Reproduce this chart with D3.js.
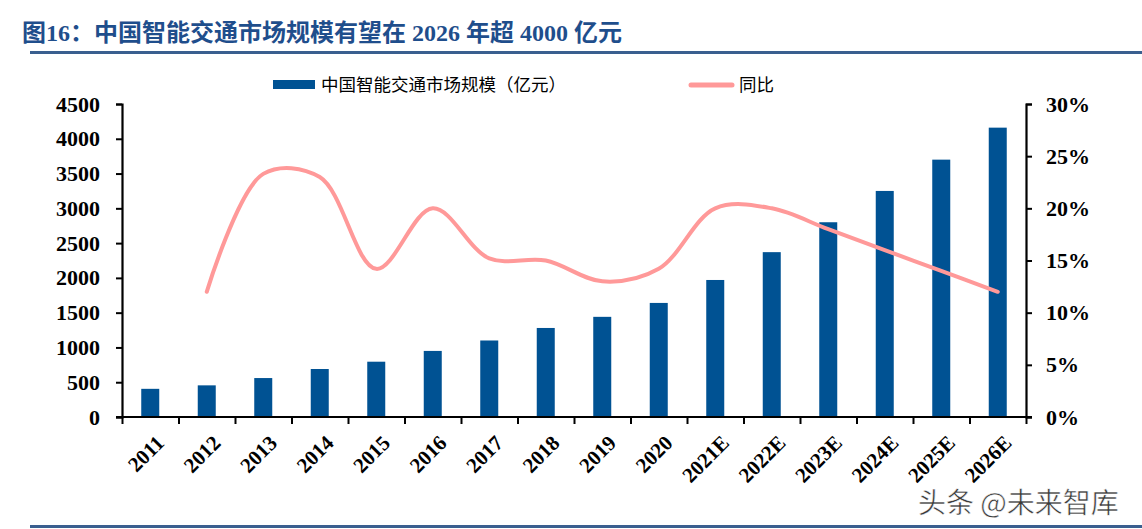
<!DOCTYPE html>
<html><head><meta charset="utf-8">
<script src="https://cdn.jsdelivr.net/npm/d3@7"></script>
<style>
body{margin:0;background:#fff;}
svg{display:block;}
</style></head><body>
<svg id="c" width="1142" height="529"></svg>
<script>
const categories = ["2011","2012","2013","2014","2015","2016","2017","2018","2019","2020","2021E","2022E","2023E","2024E","2025E","2026E"];
const marketSize = [405,455,560,690,795,950,1100,1280,1440,1640,1970,2370,2800,3250,3700,4160];
const yoy = [null,12,23.3,23,14.2,20,15.2,15,13,14.2,20,20,18,16,14,12];
const leftTicks = [0,500,1000,1500,2000,2500,3000,3500,4000,4500];
const rightTicks = [0,5,10,15,20,25,30];
const titleText = "图16：中国智能交通市场规模有望在 2026 年超 4000 亿元";
const legendBar = "中国智能交通市场规模（亿元）";
const legendLine = "同比";
const watermark = "头条 @未来智库";

const svg = d3.select("#c");
const L = 122, R = 1026, T = 104, B = 417;
const serif = "'Liberation Serif','Times New Roman','Noto Sans CJK SC',serif";
const barColor = "#005293", lineColor = "#FF9999", frameBlue = "#3A5F8F";

// title
svg.append("text").attr("x",22).attr("y",41)
  .attr("font-family",serif).attr("font-weight","bold").attr("font-size",24)
  .attr("fill","#1F4E8C").text(titleText);
svg.append("rect").attr("x",30).attr("y",51).attr("width",1112).attr("height",3).attr("fill",frameBlue);
svg.append("rect").attr("x",30).attr("y",525).attr("width",1112).attr("height",3).attr("fill",frameBlue);

const x = d3.scaleBand().domain(categories).range([L,R]).paddingInner(0).paddingOuter(0);
const yL = d3.scaleLinear().domain([0,4500]).range([B,T]);
const yR = d3.scaleLinear().domain([0,30]).range([B,T]);

// bars
const bw = 18;
svg.append("g").selectAll("rect").data(categories).join("rect")
  .attr("x",(d)=>x(d)+x.bandwidth()/2-bw/2)
  .attr("y",(d,i)=>yL(marketSize[i]))
  .attr("width",bw)
  .attr("height",(d,i)=>B-yL(marketSize[i]))
  .attr("fill",barColor);

// line
const pts = categories.map((d,i)=>({x:x(d)+x.bandwidth()/2, v:yoy[i]})).filter(p=>p.v!=null);
svg.append("path").datum(pts)
  .attr("d", d3.line().x(p=>p.x).y(p=>yR(p.v)).curve(d3.curveCatmullRom.alpha(0.5)))
  .attr("fill","none").attr("stroke",lineColor).attr("stroke-width",4).attr("stroke-linecap","round");

// axes
const axL = svg.append("g").attr("transform",`translate(${L},0)`)
  .call(d3.axisLeft(yL).tickValues(leftTicks).tickSize(6).tickPadding(16).tickFormat(d3.format("d")));
const axR = svg.append("g").attr("transform",`translate(${R},0)`)
  .call(d3.axisRight(yR).tickValues(rightTicks).tickSize(6).tickPadding(14).tickFormat(d=>d+"%"));
const xTickVals = categories.map(d=>x(d)).concat([R]);
const axX = svg.append("g").attr("transform",`translate(0,${B})`)
  .call(d3.axisBottom(d3.scaleLinear().domain([L,R]).range([L,R])).tickValues(xTickVals).tickSize(7).tickFormat(""));
[axL,axR,axX].forEach(g=>{
  g.select(".domain").attr("stroke","#000").attr("stroke-width",2.2);
  g.selectAll(".tick line").attr("stroke","#000").attr("stroke-width",2);
  g.selectAll("text").attr("font-family",serif).attr("font-weight","bold").attr("font-size",22).attr("fill","#000");
});
axX.select(".domain").attr("d",`M${L-6},0H${R+6}`);

// x labels
svg.append("g").selectAll("text").data(categories).join("text")
  .attr("transform",d=>`translate(${x(d)+x.bandwidth()/2+10},${B+22}) rotate(-45)`)
  .attr("text-anchor","end").attr("dy","0.35em")
  .attr("font-family",serif).attr("font-weight","bold").attr("font-size",21).text(d=>d);

// legend
svg.append("rect").attr("x",273).attr("y",80).attr("width",42).attr("height",9).attr("fill",barColor);
svg.append("text").attr("x",321).attr("y",91).attr("font-family",serif).attr("font-size",17.5).attr("fill","#000").text(legendBar);
svg.append("line").attr("x1",691).attr("x2",732).attr("y1",85).attr("y2",85).attr("stroke",lineColor).attr("stroke-width",5).attr("stroke-linecap","round");
svg.append("text").attr("x",739).attr("y",91).attr("font-family",serif).attr("font-size",17.5).attr("fill","#000").text(legendLine);

// watermark
svg.append("text").attr("x",918).attr("y",513).attr("font-family","'Noto Sans CJK SC',sans-serif")
  .attr("font-size",28).attr("fill","#3a3a3a").attr("stroke","#fff").attr("stroke-width",0.5).text(watermark);
</script></body></html>
